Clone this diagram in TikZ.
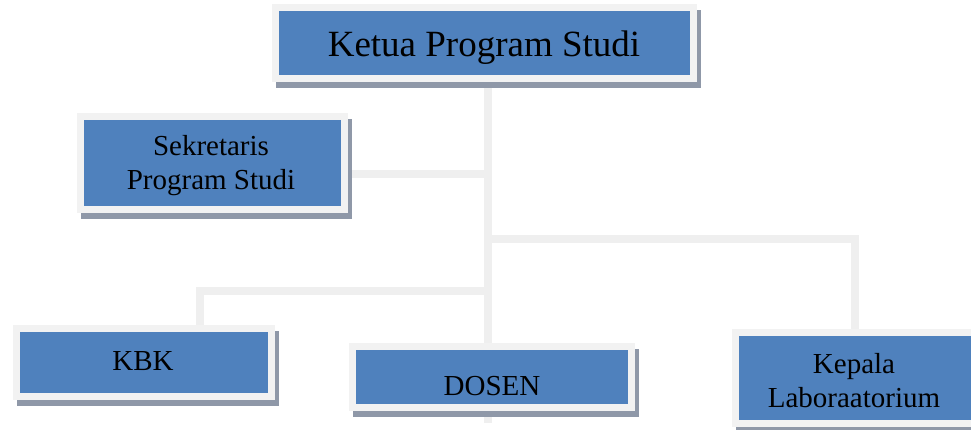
\documentclass[tikz,border=0pt]{standalone}
\usepackage{fontspec}
\setmainfont{Liberation Serif}
\usetikzlibrary{backgrounds}
\definecolor{boxblue}{RGB}{79,129,189}
\definecolor{framegray}{RGB}{242,242,242}
\definecolor{shadowgray}{RGB}{143,152,168}
\definecolor{linegray}{RGB}{239,239,239}
\tikzset{
  orgbox/.style={rectangle, draw=framegray, line width=7pt, fill=boxblue, inner sep=0pt,
    preaction={draw=shadowgray, fill=shadowgray, line width=7pt,
      transform canvas={xshift=4pt, yshift=-6pt}}},
  bigtext/.style={anchor=base, inner sep=0pt, font=\fontsize{37}{44}\selectfont},
  smalltext/.style={anchor=base, inner sep=0pt, align=center, font=\fontsize{29}{34}\selectfont},
  conn/.style={draw=linegray, line width=8pt}
}
\begin{document}
\begin{tikzpicture}[x=1pt,y=-1pt]
\useasboundingbox (0,0) rectangle (971,430);
% boxes
\node[orgbox, minimum width=418pt, minimum height=71.5pt] (ketua) at (484.5,43) {};
\node[orgbox, minimum width=264pt, minimum height=93.5pt] (sek) at (212,163.25) {};
\node[orgbox, minimum width=255.5pt, minimum height=68pt] (kbk) at (144,362.5) {};
\node[orgbox, minimum width=278.5pt, minimum height=61.5pt] (dosen) at (492,377) {};
\node[orgbox, minimum width=242pt, minimum height=91.5pt] (kepala) at (856,377.75) {};
% texts
\node[bigtext] (ketuaT) at (484,57) {Ketua Program Studi};
\node[smalltext] (sekT) at (211,190) {Sekretaris\\Program Studi};
\node[smalltext] (kbkT) at (143,370) {KBK};
\node[smalltext] (dosenT) at (492,395) {DOSEN};
\node[smalltext] (kepalaT) at (854,407) {Kepala\\Laboraatorium};
% connectors
\coordinate (spinebot) at (488,423);
\coordinate (sekj) at (488,174.5);
\coordinate (rj) at (488,239);
\coordinate (lj) at (488,291);
\coordinate (kbkj) at (200,291);
\coordinate (kepj) at (855,239);
\begin{scope}[on background layer]
\draw[conn] (ketua.south -| spinebot) -- (spinebot);
\draw[conn] (sekj -| sek.east) -- (sekj);
\draw[conn] (rj) -- (kepj) -- (kepj |- kepala.north);
\draw[conn] (lj) -- (kbkj) -- (kbkj |- kbk.north);
\end{scope}
\end{tikzpicture}
\end{document}
